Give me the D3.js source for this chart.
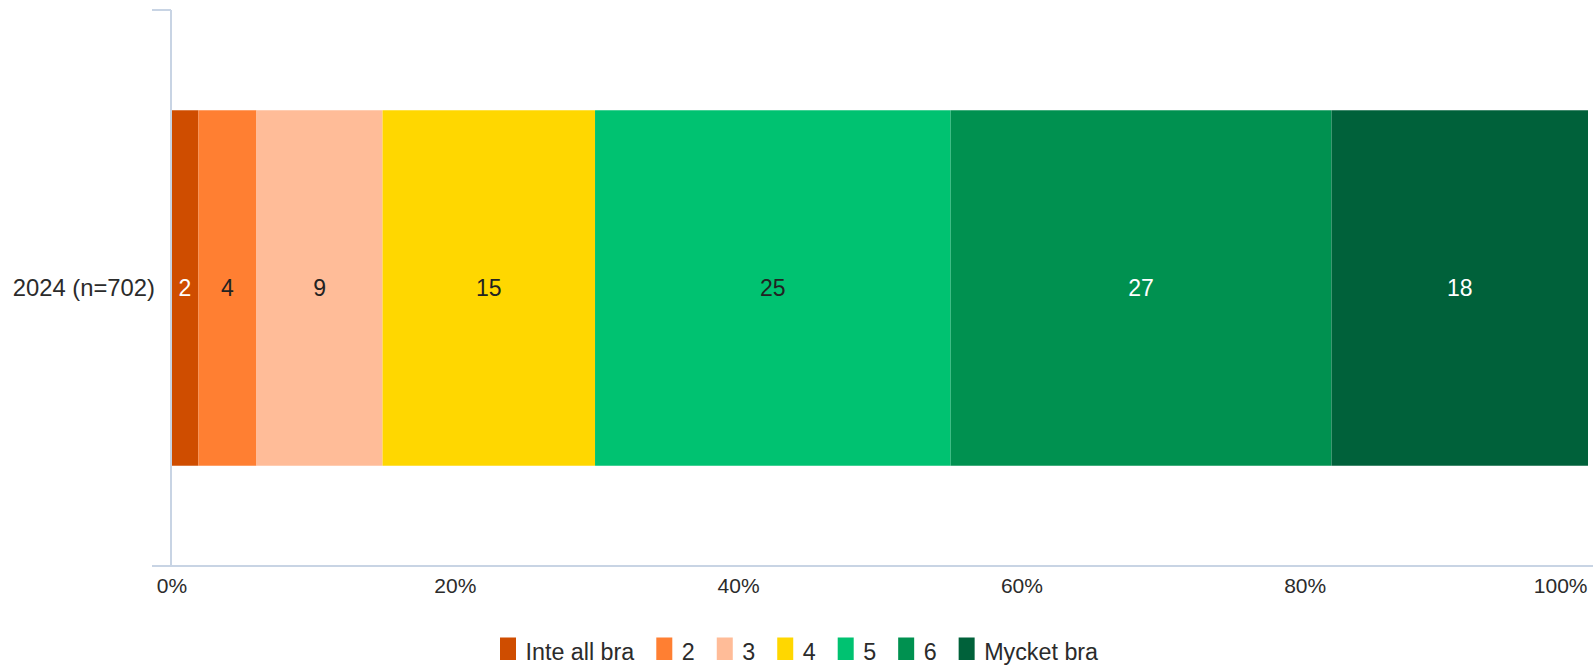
<!DOCTYPE html>
<html>
<head>
<meta charset="utf-8">
<script src="https://cdn.jsdelivr.net/npm/d3@7"></script>
<style>
  html, body { margin: 0; padding: 0; background: #fff; }
  svg { display: block; font-family: "Liberation Sans", Arial, sans-serif; }
</style>
</head>
<body>
<svg id="chart" width="1593" height="665"></svg>
<script>
// ---- Data ----
const categories = ["2024 (n=702)"];
const seriesNames = ["Inte all bra", "2", "3", "4", "5", "6", "Mycket bra"];
const seriesValues = [1.9, 4.1, 8.9, 15.0, 25.1, 26.9, 18.1];
const dataLabels = ["2", "4", "9", "15", "25", "27", "18"];
const tickValues = [0, 20, 40, 60, 80, 100];
const tickLabels = ["0%", "20%", "40%", "60%", "80%", "100%"];
const seriesColors = ["#CF4D00", "#FF7F32", "#FFBC98", "#FFD700", "#00C271", "#009150", "#00613A"];
const labelColors = ["#ffffff", "#222222", "#222222", "#222222", "#222222", "#ffffff", "#ffffff"];

// ---- Layout ----
const svg = d3.select("#chart");
const plot = { left: 171.5, right: 1588, top: 10, bottom: 566 };
const axisColor = "#C8D4E4";

const x = d3.scaleLinear().domain([0, 100]).range([plot.left, plot.right]);
const y = d3.scaleBand().domain(categories).range([plot.top, plot.bottom]).padding(0.22);

// stacked data
const stacked = [];
let acc = 0;
seriesValues.forEach((v, i) => {
  stacked.push({ name: seriesNames[i], x0: acc, x1: acc + v, label: dataLabels[i], color: seriesColors[i], lc: labelColors[i] });
  acc += v;
});

// bars
const cat = categories[0];
svg.append("g").selectAll("rect").data(stacked).join("rect")
  .attr("x", d => x(d.x0))
  .attr("width", d => x(d.x1) - x(d.x0))
  .attr("y", y(cat))
  .attr("height", y.bandwidth())
  .attr("fill", d => d.color);

// data labels
svg.append("g").selectAll("text").data(stacked).join("text")
  .attr("x", d => (x(d.x0) + x(d.x1)) / 2)
  .attr("y", y(cat) + y.bandwidth() / 2)
  .attr("dy", "0.35em")
  .attr("text-anchor", "middle")
  .attr("font-size", 23)
  .attr("fill", d => d.lc)
  .text(d => d.label);

// y axis line + boundary ticks
svg.append("line")
  .attr("x1", plot.left - 0.5).attr("x2", plot.left - 0.5)
  .attr("y1", plot.top).attr("y2", plot.bottom)
  .attr("stroke", axisColor).attr("stroke-width", 2);
svg.append("line")
  .attr("x1", 152).attr("x2", plot.left - 0.5)
  .attr("y1", plot.top).attr("y2", plot.top)
  .attr("stroke", axisColor).attr("stroke-width", 2);

// x baseline
svg.append("line")
  .attr("x1", 152).attr("x2", 1593)
  .attr("y1", plot.bottom).attr("y2", plot.bottom)
  .attr("stroke", axisColor).attr("stroke-width", 2);

// category label
svg.append("g").selectAll("text").data(categories).join("text")
  .attr("x", 155)
  .attr("y", d => y(d) + y.bandwidth() / 2)
  .attr("dy", "0.35em")
  .attr("text-anchor", "end")
  .attr("font-size", 23.8)
  .attr("fill", "#2b2b2b")
  .text(d => d);

// x axis tick labels
const xAxis = d3.axisBottom(x).tickValues(tickValues).tickSize(0).tickFormat((d, i) => tickLabels[i]);
const gx = svg.append("g").attr("transform", `translate(0,${plot.bottom})`).call(xAxis);
gx.select(".domain").remove();
gx.selectAll("text")
  .attr("font-family", "Liberation Sans, Arial, sans-serif")
  .attr("font-size", 21)
  .attr("fill", "#2b2b2b")
  .attr("y", 12)
  .attr("dy", "0.71em")
  .each(function(d) {
    if (d === 100) d3.select(this).attr("text-anchor", "end").attr("x", 1587 - x(100));
  });

// legend
const legend = svg.append("g");
let lx = 500;
seriesNames.forEach((name, i) => {
  const g = legend.append("g");
  g.append("rect").attr("x", lx).attr("y", 637.5).attr("width", 16).attr("height", 22.5).attr("fill", seriesColors[i]);
  const t = g.append("text").attr("x", lx + 25.5).attr("y", 659.5)
    .attr("font-size", 23.3).attr("fill", "#2b2b2b").text(name);
  const w = t.node().getComputedTextLength();
  lx += 25.5 + w + 22;
});
</script>
</body>
</html>
